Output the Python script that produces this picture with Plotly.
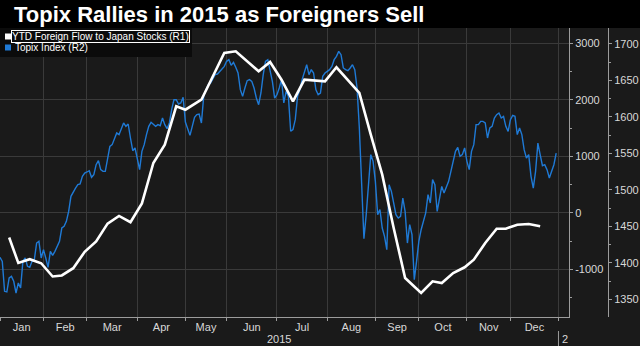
import pandas as pd
import plotly.graph_objects as go

# ---------------- data ----------------
chart_title = "Topix Rallies in 2015 as Foreigners Sell"
flow_name = "YTD Foreign Flow to Japan Stocks (R1)"
topix_name = "Topix Index (R2)"
year_label = "2015"
next_year_label = "2"

# Tokyo Stock Exchange holidays (weekdays closed)
tse_holidays = ["2015-01-01", "2015-01-02", "2015-01-12", "2015-02-11", "2015-04-29",
                "2015-05-04", "2015-05-05", "2015-05-06", "2015-07-20", "2015-09-21",
                "2015-09-22", "2015-09-23", "2015-10-12", "2015-11-03", "2015-11-23",
                "2015-12-23", "2015-12-31", "2016-01-01"]
calendar_start = "2015-01-01"
calendar_end = "2016-01-08"

# Topix daily close, one value per 2015 trading session
topix_close = [
    1407.5, 1402.0, 1360.9, 1360.0, 1379.2, 1381.4, 1374.6, 1358.6, 1372.3, 1365.4,
    1402.0, 1406.6, 1395.2, 1393.8, 1402.0, 1404.3, 1427.1, 1429.4, 1406.6, 1418.0,
    1406.6, 1393.8, 1415.7, 1410.2, 1415.7, 1422.6, 1429.4, 1447.7, 1450.0, 1456.8,
    1470.5, 1491.1, 1498.0, 1502.5, 1507.1, 1508.0, 1518.5, 1523.1, 1524.5, 1526.3,
    1517.2, 1520.8, 1534.5, 1540.0, 1527.7, 1525.4, 1525.4, 1543.7, 1559.7, 1562.0,
    1571.1, 1578.0, 1575.7, 1584.8, 1591.7, 1587.1, 1590.3, 1571.1, 1553.7, 1557.4,
    1541.4, 1527.7, 1552.8, 1562.0, 1575.7, 1587.1, 1592.6, 1589.4, 1587.1, 1589.4,
    1588.0, 1598.5, 1589.4, 1583.9, 1591.7, 1609.9, 1623.6, 1623.6, 1617.7, 1619.1,
    1626.9, 1593.0, 1584.8, 1574.7, 1587.1, 1599.4, 1603.1, 1604.0, 1591.7, 1628.2,
    1637.4, 1644.2, 1646.5, 1653.3, 1657.9, 1658.8, 1662.5, 1667.1, 1669.3, 1676.2,
    1678.5, 1670.7, 1674.8, 1668.0, 1660.2, 1637.4, 1628.2, 1639.6, 1649.7, 1651.1,
    1648.8, 1639.6, 1625.9, 1616.8, 1632.8, 1657.9, 1676.2, 1678.5, 1664.8, 1648.8,
    1625.9, 1630.5, 1639.6, 1651.1, 1619.1, 1635.1, 1628.2, 1580.3, 1582.5, 1596.2,
    1628.2, 1637.4, 1651.1, 1662.5, 1671.6, 1657.9, 1664.8, 1660.2, 1637.4, 1630.5,
    1632.8, 1655.6, 1660.2, 1662.5, 1664.8, 1669.3, 1678.5, 1683.1, 1689.9, 1685.3,
    1667.1, 1664.8, 1663.4, 1667.1, 1671.6, 1664.8, 1639.6, 1584.8, 1502.5, 1433.1,
    1466.0, 1514.0, 1548.3, 1539.1, 1511.7, 1466.0, 1472.9, 1447.7, 1436.3, 1418.0,
    1507.1, 1498.0, 1479.7, 1466.0, 1461.4, 1463.7, 1488.8, 1470.5, 1427.1, 1452.3,
    1438.6, 1376.9, 1402.0, 1429.4, 1445.4, 1456.8, 1468.3, 1493.4, 1482.0, 1514.0,
    1507.1, 1470.5, 1488.8, 1504.8, 1495.7, 1502.5, 1511.7, 1525.4, 1539.1, 1552.8,
    1558.3, 1546.0, 1548.3, 1557.4, 1539.1, 1527.7, 1552.8, 1562.0, 1589.4, 1589.4,
    1593.9, 1593.9, 1591.7, 1571.1, 1584.8, 1587.1, 1598.5, 1603.1, 1605.4, 1598.5,
    1600.8, 1587.1, 1580.2, 1596.2, 1602.2, 1600.8, 1575.7, 1584.8, 1575.7, 1555.1,
    1543.7, 1548.3, 1518.5, 1502.5, 1525.4, 1564.2, 1548.3, 1533.1, 1534.5, 1527.7,
    1516.2, 1525.4, 1534.5, 1550.5,
]

# Year-to-date foreign net flow into Japanese stocks (weekly, week ending)
flow_week_end = [
    "2015-01-09", "2015-01-16", "2015-01-23", "2015-01-30", "2015-02-06", "2015-02-13",
    "2015-02-20", "2015-02-27", "2015-03-06", "2015-03-13", "2015-03-20", "2015-03-27",
    "2015-04-03", "2015-04-10", "2015-04-17", "2015-04-24", "2015-05-01", "2015-05-15",
    "2015-05-29", "2015-06-05", "2015-06-19", "2015-06-26", "2015-07-03", "2015-07-10",
    "2015-07-17", "2015-07-31", "2015-08-07", "2015-08-21", "2015-08-28", "2015-09-04",
    "2015-09-11", "2015-09-18", "2015-10-02", "2015-10-09", "2015-10-16", "2015-10-23",
    "2015-10-30", "2015-11-06", "2015-11-13", "2015-11-20", "2015-11-27", "2015-12-04",
    "2015-12-11", "2015-12-18",
]
flow_ytd = [
    -434, -885, -818, -890, -1124, -1106,
    -977, -687, -504, -189, -53, -163,
    170, 885, 1209, 1888, 1828, 2005,
    2832, 2862, 2508, 2673, 2359, 1977,
    2359, 2331, 2579, 2124, 1386, 678,
    -265, -1150, -1416, -1209, -1239, -1062,
    -961, -827, -531, -278, -278, -207,
    -195, -235,
]

r1_tickvals = [-1000, 0, 1000, 2000, 3000]
r1_ticktext = ["-1000", "0", "1000", "2000", "3000"]
r1_range = [-1841, 3274]
r2_tickvals = [1350, 1400, 1450, 1500, 1550, 1600, 1650, 1700]
r2_range = [1325.7, 1721.9]

# ---------------- derived (trading-session axis) ----------------
sessions = pd.bdate_range(calendar_start, calendar_end, freq="C", holidays=tse_holidays)
session_index = {d.strftime("%Y-%m-%d"): i for i, d in enumerate(sessions)}
topix_x = list(range(len(topix_close)))
flow_x = [session_index[d] for d in flow_week_end]

month_starts = [i for i in range(len(sessions))
                if i == 0 or sessions[i].month != sessions[i - 1].month]
month_mids = [(month_starts[k] + month_starts[k + 1]) / 2 for k in range(len(month_starts) - 1)]
month_names = [sessions[month_starts[k]].strftime("%b") for k in range(len(month_starts) - 1)]
year_end = month_starts[-1]
x_range = [0, len(sessions) - 1 + 0.6]

# ---------------- styling ----------------
W, H = 640, 346
M_T, M_B = 28, 29
PLOT_H = H - M_T - M_B
BG = "#1a1a1a"
GRID = "#3a3a3a"
AXIS = "#9c9c9c"
TXT = "#d8d8d8"
BLUE = "#1f7ad6"
FONT = "Liberation Sans"


def py(ypx):
    """paper y from pixel y (top origin)"""
    return (H - M_B - ypx) / PLOT_H


fig = go.Figure()
fig.add_trace(go.Scatter(x=topix_x, y=topix_close, name=topix_name, mode="lines",
                         line=dict(color=BLUE, width=1.4), yaxis="y", showlegend=False))
fig.add_trace(go.Scatter(x=flow_x, y=flow_ytd, name=flow_name, mode="lines",
                         line=dict(color="#ffffff", width=2.6), yaxis="y2", showlegend=False))

tickfont = dict(family=FONT, size=11, color=TXT)

fig.update_layout(
    width=W, height=H,
    margin=dict(l=0, r=0, t=M_T, b=M_B, pad=0),
    paper_bgcolor=BG, plot_bgcolor=BG,
    showlegend=False,
    title=dict(text="<b>" + chart_title + "</b>", x=14 / W, xanchor="left",
               y=1 - 14 / H, yanchor="middle",
               font=dict(family=FONT, size=22, color="#ffffff")),
    xaxis=dict(domain=[0, 569 / W], range=x_range, showgrid=False, zeroline=False,
               tickmode="array", tickvals=month_mids, ticktext=month_names, ticks="",
               tickfont=tickfont, showline=True, linecolor=AXIS, linewidth=1,
               minor=dict(tickmode="array", tickvals=month_starts, showgrid=True,
                          gridcolor=GRID, gridwidth=1, ticks="outside", ticklen=3,
                          tickcolor=AXIS)),
    yaxis=dict(anchor="free", position=608 / W, side="right", range=r2_range,
               tickmode="array", tickvals=r2_tickvals, showgrid=False, zeroline=False,
               showline=True, linecolor=AXIS, linewidth=1, ticks="outside", ticklen=3,
               tickcolor=AXIS, tickfont=tickfont,
               minor=dict(tickmode="linear", tick0=1325, dtick=25, ticks="outside",
                          ticklen=2, tickcolor=AXIS, showgrid=False)),
    yaxis2=dict(overlaying="y", anchor="x", side="right", range=r1_range,
                tickmode="array", tickvals=r1_tickvals, ticktext=r1_ticktext,
                showgrid=True, gridcolor=GRID, gridwidth=1, zeroline=False,
                showline=True, linecolor=AXIS, linewidth=1, ticks="outside", ticklen=3,
                tickcolor=AXIS, tickfont=tickfont,
                minor=dict(tickmode="linear", tick0=-1500, dtick=500, ticks="outside",
                           ticklen=2, tickcolor=AXIS, showgrid=False)),
)

shapes = [
    # black title band
    dict(type="rect", xref="paper", yref="paper", x0=0, x1=1, y0=1, y1=py(0),
         fillcolor="#000000", line=dict(width=0), layer="below"),
    # legend panel
    dict(type="rect", xref="paper", yref="paper", x0=0, x1=192 / W, y0=py(57), y1=py(28),
         fillcolor="#0b0b0b", line=dict(width=0), layer="above"),
    dict(type="rect", xref="paper", yref="paper", x0=5 / W, x1=11 / W, y0=py(39.5), y1=py(33.5),
         fillcolor="#ffffff", line=dict(width=0), layer="above"),
    dict(type="rect", xref="paper", yref="paper", x0=5 / W, x1=11 / W, y0=py(50.5), y1=py(44.5),
         fillcolor=BLUE, line=dict(width=0), layer="above"),
    # year separator below axis
    dict(type="line", xref="x", yref="paper", x0=year_end, x1=year_end,
         y0=py(331), y1=py(346), line=dict(color=AXIS, width=1)),
]
fig.update_layout(shapes=shapes)

annotations = [
    dict(text=flow_name, xref="paper", yref="paper", x=11 / W, y=py(36.5), xanchor="left",
         yanchor="middle", showarrow=False, font=dict(family=FONT, size=10, color="#ffffff"),
         bordercolor="#ffffff", borderwidth=1, borderpad=0),
    dict(text=topix_name, xref="paper", yref="paper", x=13 / W, y=py(48), xanchor="left",
         yanchor="middle", showarrow=False, font=dict(family=FONT, size=10, color="#ffffff")),
    dict(text=year_label, xref="x", yref="paper", x=year_end / 2, y=py(338.5),
         xanchor="center", yanchor="middle", showarrow=False, font=tickfont),
    dict(text=next_year_label, xref="x", yref="paper", x=year_end, xshift=2, y=py(338.5),
         xanchor="left", yanchor="middle", showarrow=False, font=tickfont),
]
fig.update_layout(annotations=annotations)

fig.write_html("out.html")
